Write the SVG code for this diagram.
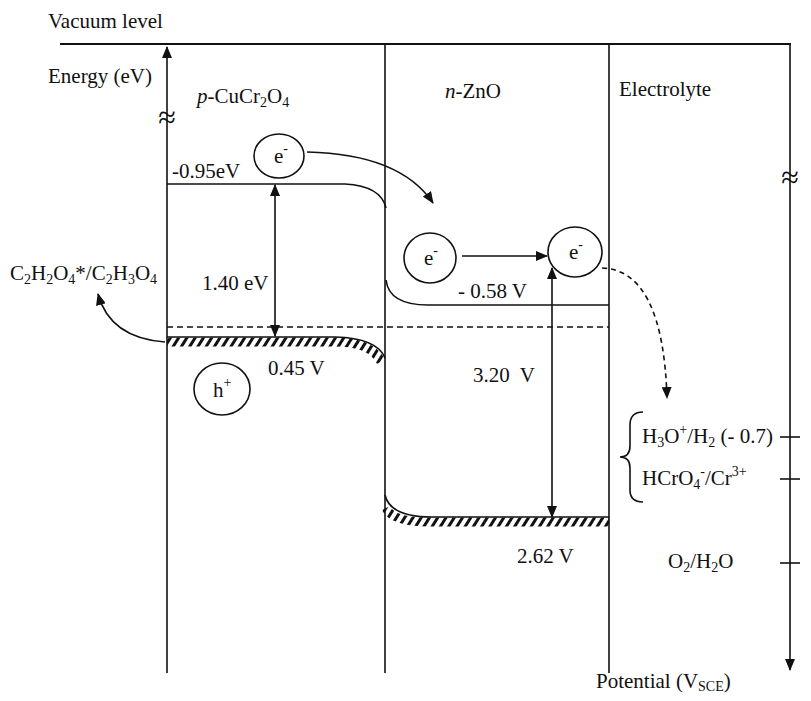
<svg xmlns="http://www.w3.org/2000/svg" width="811" height="701" viewBox="0 0 811 701">
<defs>
<style>
text{font-family:"Liberation Serif","Times New Roman",serif;font-size:21px;fill:#111}
.ln{stroke:#111;stroke-width:1.6;fill:none}
.ax{stroke:#111;stroke-width:2;fill:none}
.sub{font-size:14px}
.it{font-style:italic}
.hatch{stroke:url(#hp);stroke-width:9;fill:none}
.el{fill:none;stroke:#111;stroke-width:1.6}
.ei{font-size:21px}
.sq{font-size:32px}
</style>
<marker id="ah" markerWidth="12" markerHeight="10" refX="11" refY="5" orient="auto-start-reverse" markerUnits="userSpaceOnUse">
<path d="M0,0 L12,5 L0,10 Z" fill="#111"/>
</marker>
<pattern id="hp" width="7" height="20" patternUnits="userSpaceOnUse" patternTransform="rotate(32)">
<rect x="0" y="0" width="3" height="20" fill="#111"/>
</pattern>
</defs>
<rect width="811" height="701" fill="#fff"/>

<g id="frame">
<line class="ax" x1="60" y1="44" x2="791" y2="44"/>
<line class="ln" x1="385" y1="44" x2="385" y2="673"/>
<line class="ln" x1="609" y1="44" x2="609" y2="673"/>
<line class="ln" x1="167" y1="673" x2="167" y2="47" marker-end="url(#ah)"/>
<line class="ln" x1="790" y1="44" x2="790" y2="670" marker-end="url(#ah)"/>
<text class="sq" x="167" y="128" text-anchor="middle">≈</text>
<text class="sq" x="790" y="188" text-anchor="middle">≈</text>
<line class="ln" x1="780" y1="437" x2="800" y2="437"/>
<line class="ln" x1="780" y1="479" x2="800" y2="479"/>
<line class="ln" x1="780" y1="563" x2="800" y2="563"/>
</g>

<g id="labels">
<text x="48" y="28">Vacuum level</text>
<text x="48" y="83">Energy (eV)</text>
<text x="197" y="103"><tspan class="it">p</tspan>-CuCr<tspan class="sub" dy="4">2</tspan><tspan dy="-4">O</tspan><tspan class="sub" dy="4">4</tspan></text>
<text x="445" y="98"><tspan class="it">n</tspan>-ZnO</text>
<text x="619" y="96">Electrolyte</text>
<text x="596" y="688">Potential (V<tspan class="sub" dy="3">SCE</tspan><tspan dy="-3">)</tspan></text>
</g>

<g id="p-band">
<path class="ln" d="M167,184 L345,184 Q381,186 386,208"/>
<path class="hatch" d="M167,342 L335,342 Q372,342 381,362"/>
<path class="ln" d="M167,337 L335,337 Q377,338 385,358"/>
<text x="172" y="178">-0.95eV</text>
<text x="202" y="290">1.40 eV</text>
<text x="268" y="375">0.45 V</text>
</g>

<g id="n-band">
<path class="ln" d="M386,280 Q389,305 428,305 L609,305"/>
<path class="hatch" d="M386,508 Q392,522 430,522 L609,522"/>
<path class="ln" d="M385,495 Q390,517 432,517 L609,517"/>
<text x="458" y="298">- 0.58 V</text>
<text x="473" y="382" xml:space="preserve">3.20  V</text>
<text x="517" y="563">2.62 V</text>
</g>

<g id="fermi">
<line x1="167" y1="327" x2="609" y2="327" stroke="#111" stroke-width="1.4" stroke-dasharray="6,4"/>
</g>

<g id="e1">
<ellipse class="el" cx="279" cy="156" rx="25" ry="22"/>
<text class="ei" x="274" y="163">e<tspan class="sub" dy="-10">-</tspan></text>
</g>
<g id="e2">
<ellipse class="el" cx="430" cy="258" rx="26" ry="25"/>
<text class="ei" x="424" y="265">e<tspan class="sub" dy="-10">-</tspan></text>
</g>
<g id="e3">
<ellipse class="el" cx="575" cy="252" rx="27" ry="25"/>
<text class="ei" x="569" y="259">e<tspan class="sub" dy="-10">-</tspan></text>
</g>
<g id="h1">
<ellipse class="el" cx="222" cy="389" rx="28" ry="26"/>
<text class="ei" x="213" y="397">h<tspan class="sub" dy="-10">+</tspan></text>
</g>

<g id="species">
<text x="10" y="280">C<tspan class="sub" dy="4">2</tspan><tspan dy="-4">H</tspan><tspan class="sub" dy="4">2</tspan><tspan dy="-4">O</tspan><tspan class="sub" dy="4">4</tspan><tspan dy="-4">*/C</tspan><tspan class="sub" dy="4">2</tspan><tspan dy="-4">H</tspan><tspan class="sub" dy="4">3</tspan><tspan dy="-4">O</tspan><tspan class="sub" dy="4">4</tspan></text>
<path class="ln" d="M643,412 Q630,412 630,425 L630,446 Q630,457 620,457 Q630,457 630,468 L630,490 Q630,502 643,502"/>
<text x="642" y="443">H<tspan class="sub" dy="4">3</tspan><tspan dy="-4">O</tspan><tspan class="sub" dy="-9">+</tspan><tspan dy="9">/H</tspan><tspan class="sub" dy="4">2</tspan><tspan dy="-4"> (- 0.7)</tspan></text>
<text x="642" y="485">HCrO<tspan class="sub" dy="4">4</tspan><tspan class="sub" dy="-13">-</tspan><tspan dy="9">/Cr</tspan><tspan class="sub" dy="-9">3+</tspan></text>
<text x="668" y="568">O<tspan class="sub" dy="4">2</tspan><tspan dy="-4">/H</tspan><tspan class="sub" dy="4">2</tspan><tspan dy="-4">O</tspan></text>
</g>

<g id="connectors">
<path class="ln" d="M307,152 Q400,154 433,203" marker-end="url(#ah)"/>
<line class="ln" x1="462" y1="256" x2="547" y2="256" marker-end="url(#ah)"/>
<line class="ln" x1="275" y1="185" x2="275" y2="336" marker-start="url(#ah)" marker-end="url(#ah)"/>
<line class="ln" x1="552" y1="268" x2="552" y2="517" marker-start="url(#ah)" marker-end="url(#ah)"/>
<path class="ln" d="M165,342 Q110,338 98,294" marker-end="url(#ah)"/>
<path class="ln" d="M602,268 Q663,270 667,398" stroke-dasharray="5,4" marker-end="url(#ah)"/>
</g>
</svg>
